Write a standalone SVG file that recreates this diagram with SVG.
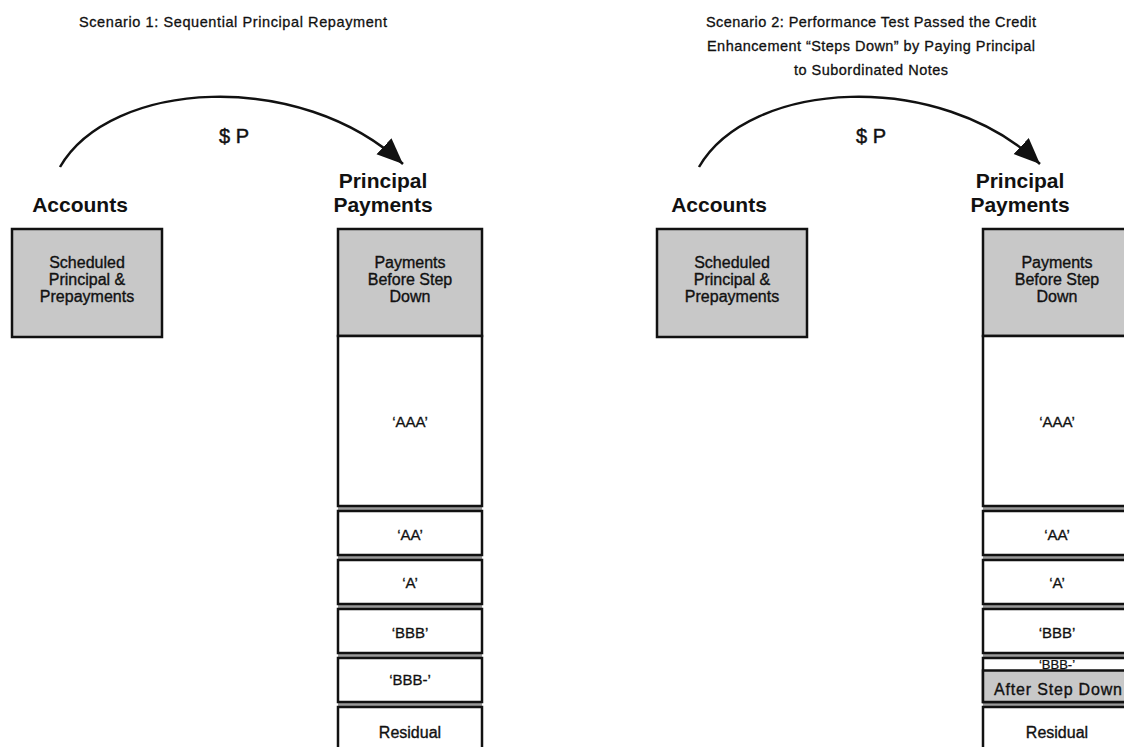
<svg xmlns="http://www.w3.org/2000/svg" width="1124" height="747" viewBox="0 0 1124 747">
<style>
text{font-family:"Liberation Sans",Arial,sans-serif;fill:#111;text-anchor:middle}
.title{font-size:14.5px;stroke:#111;stroke-width:0.3}
.head{font-size:21px;font-weight:bold}
.amt{font-size:20px;stroke:#111;stroke-width:0.45}
.lbl{font-size:16px;stroke:#111;stroke-width:0.35}
.rate{font-size:15px;stroke:#111;stroke-width:0.3}
.small{font-size:13px;stroke:#111;stroke-width:0.25}
.grey{fill:#c8c8c8;stroke:#111;stroke-width:2.5}
.white{fill:#fff;stroke:#111;stroke-width:2.5}
.gap{fill:#9a9a9a}
.arc{fill:none;stroke:#111;stroke-width:2.5}
</style>
<defs>
<marker id="ah" markerUnits="userSpaceOnUse" markerWidth="28" markerHeight="24" refX="26" refY="11" orient="auto">
<path d="M0,0 L26,11 L0,22 z" fill="#111"/>
</marker>
</defs>
<rect width="1124" height="747" fill="#fff"/>

<!-- titles -->
<text class="title" x="233" y="27" textLength="308" lengthAdjust="spacing">Scenario 1: Sequential Principal Repayment</text>
<text class="title" x="871" y="27" textLength="330" lengthAdjust="spacing">Scenario 2: Performance Test Passed the Credit</text>
<text class="title" x="871" y="51" textLength="328" lengthAdjust="spacing">Enhancement “Steps Down” by Paying Principal</text>
<text class="title" x="871" y="75" textLength="154" lengthAdjust="spacing">to Subordinated Notes</text>

<!-- connectors -->
<g id="connectors">
<path class="arc" d="M60,167 C110,80 300,68 403,164" marker-end="url(#ah)"/>
<text class="amt" x="234" y="143">$ P</text>
<path class="arc" d="M699,167 C749,80 939,68 1040,164" marker-end="url(#ah)"/>
<text class="amt" x="871" y="143">$ P</text>
</g>

<!-- Scenario 1 -->
<g id="s1-accounts">
<text class="head" x="80" y="212">Accounts</text>
<rect class="grey" x="12" y="229" width="150" height="108"/>
<text class="lbl" x="87" y="268">Scheduled</text>
<text class="lbl" x="87" y="285">Principal &amp;</text>
<text class="lbl" x="87" y="302">Prepayments</text>
</g>
<g id="s1-principal">
<text class="head" x="383" y="188">Principal</text>
<text class="head" x="383" y="212">Payments</text>
<rect class="gap" x="338" y="336" width="144" height="420"/>
<rect class="grey" x="338" y="229" width="144" height="107"/>
<text class="lbl" x="410" y="268">Payments</text>
<text class="lbl" x="410" y="285">Before Step</text>
<text class="lbl" x="410" y="302">Down</text>
</g>
<g id="s1-aaa"><rect class="white" x="338" y="336" width="144" height="170"/><text class="rate" x="410" y="427">‘AAA’</text></g>
<g id="s1-aa"><rect class="white" x="338" y="511" width="144" height="44"/><text class="rate" x="410" y="540">‘AA’</text></g>
<g id="s1-a"><rect class="white" x="338" y="560" width="144" height="44"/><text class="rate" x="410" y="588">‘A’</text></g>
<g id="s1-bbb"><rect class="white" x="338" y="609" width="144" height="44"/><text class="rate" x="410" y="638">‘BBB’</text></g>
<g id="s1-bbbm"><rect class="white" x="338" y="658" width="144" height="44"/><text class="rate" x="410" y="685">‘BBB-’</text></g>
<g id="s1-res"><rect class="white" x="338" y="707" width="144" height="60"/><text class="lbl" x="410" y="738">Residual</text></g>

<!-- Scenario 2 -->
<g id="s2-accounts">
<text class="head" x="719" y="212">Accounts</text>
<rect class="grey" x="657" y="229" width="150" height="108"/>
<text class="lbl" x="732" y="268">Scheduled</text>
<text class="lbl" x="732" y="285">Principal &amp;</text>
<text class="lbl" x="732" y="302">Prepayments</text>
</g>
<g id="s2-principal">
<text class="head" x="1020" y="188">Principal</text>
<text class="head" x="1020" y="212">Payments</text>
<rect class="gap" x="983" y="336" width="148" height="420"/>
<rect class="grey" x="983" y="229" width="148" height="107"/>
<text class="lbl" x="1057" y="268">Payments</text>
<text class="lbl" x="1057" y="285">Before Step</text>
<text class="lbl" x="1057" y="302">Down</text>
</g>
<g id="s2-aaa"><rect class="white" x="983" y="336" width="148" height="170"/><text class="rate" x="1057" y="427">‘AAA’</text></g>
<g id="s2-aa"><rect class="white" x="983" y="511" width="148" height="44"/><text class="rate" x="1057" y="540">‘AA’</text></g>
<g id="s2-a"><rect class="white" x="983" y="560" width="148" height="44"/><text class="rate" x="1057" y="588">‘A’</text></g>
<g id="s2-bbb"><rect class="white" x="983" y="609" width="148" height="44"/><text class="rate" x="1057" y="638">‘BBB’</text></g>
<g id="s2-bbbm">
<rect class="white" x="983" y="658" width="148" height="44"/>
<rect class="grey" x="983" y="670.5" width="148" height="31.5"/>
<text class="small" x="1057" y="668.5">‘BBB-’</text>
<text class="lbl" x="1058" y="695" textLength="128" lengthAdjust="spacing">After Step Down</text>
</g>
<g id="s2-res"><rect class="white" x="983" y="707" width="148" height="60"/><text class="lbl" x="1057" y="738">Residual</text></g>
</svg>
